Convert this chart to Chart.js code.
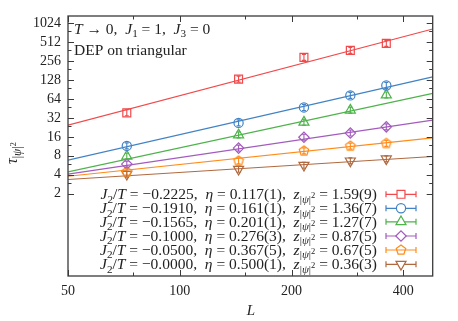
<!DOCTYPE html>
<html>
<head>
<meta charset="utf-8">
<script src="https://cdn.jsdelivr.net/npm/chart.js@4.4.0/dist/chart.umd.min.js"></script>
<style>
  html, body { margin: 0; padding: 0; background: #fff; }
  #wrap { width: 458px; height: 321px; }
</style>
</head>
<body>
<div id="wrap"><canvas id="c" width="458" height="321"></canvas></div>
<script>
// === dados === //
const sizes = [72, 144, 216, 288, 360];          // L
const j2Labels = ['\u22120.2225', '\u22120.1910', '\u22120.1565', '\u22120.1000', '\u22120.0500', '\u22120.0000'];
const etaLabels = ['0.117(1)', '0.161(1)', '0.201(1)', '0.276(3)', '0.367(5)', '0.500(1)'];
const zLabels = ['1.59(9)', '1.36(7)', '1.27(7)', '0.87(5)', '0.67(5)', '0.36(3)'];

const tauA = [38.6, 132.8, 294, 380, 491];   // J2/T = -0.2225
const tauB = [11.5, 26.7, 47.0, 73, 105];    // -0.1910
const tauC = [7.9, 17.2, 27.4, 42.6, 74];    // -0.1565
const tauD = [5.9, 10.6, 15.8, 18.4, 23.1];  // -0.1000
const tauE = [4.43, 6.63, 9.58, 11.4, 12.6]; // -0.0500
const tauF = [4.08, 4.89, 5.66, 6.63, 7.15]; // -0.0000

// retas de ajuste (extremos do eixo)
const fitL = [50, 480];
const fitA = [24.6, 831];
const fitB = [6.8, 144];
const fitC = [4.43, 78.6];
const fitD = [4.08, 29.5];
const fitE = [3.78, 15.4];
const fitF = [3.36, 7.8];

const xTicks = [50, 100, 200, 400];
const xMinor = [75, 150, 300];
const yTicks = [2, 4, 8, 16, 32, 64, 128, 256, 512, 1024];
const yMinor = [3, 6, 12, 24, 48, 96, 192, 384, 768];

// === estilos === //
const colors = ['#f04a4c', '#4183c4', '#4db34a', '#a35cbd', '#ff8c1a', '#b0693f'];
const FONT = '"Liberation Serif", "DejaVu Serif", serif';
const frameColor = '#3a3a3a';

function makePentagon(color, r) {
  const s = Math.ceil(r * 2 + 4);
  const cv = document.createElement('canvas');
  cv.width = s; cv.height = s;
  const g = cv.getContext('2d');
  g.strokeStyle = color; g.lineWidth = 1.2;
  g.beginPath();
  for (let i = 0; i < 5; i++) {
    const a = -Math.PI / 2 + i * 2 * Math.PI / 5;
    const px = s / 2 + r * Math.cos(a), py = s / 2 + r * Math.sin(a);
    i ? g.lineTo(px, py) : g.moveTo(px, py);
  }
  g.closePath(); g.stroke();
  return cv;
}

const markers = [
  { style: 'rect', radius: 5.6, rotation: 0 },
  { style: 'circle', radius: 4.6, rotation: 0 },
  { style: 'triangle', radius: 5.8, rotation: 0 },
  { style: 'rectRot', radius: 5.2, rotation: 0 },
  { style: makePentagon(colors[4], 5), radius: 5, rotation: 0 },
  { style: 'triangle', radius: 5.8, rotation: 180 }
];

const series = [tauA, tauB, tauC, tauD, tauE, tauF];
const fits = [fitA, fitB, fitC, fitD, fitE, fitF];

const datasets = [];
fits.forEach((f, i) => {
  datasets.push({
    type: 'line',
    data: fitL.map((x, k) => ({ x, y: f[k] })),
    borderColor: colors[i],
    borderWidth: 1.2,
    pointRadius: 0,
    fill: false,
    order: 2
  });
});
series.forEach((s, i) => {
  datasets.push({
    type: 'scatter',
    data: sizes.map((x, k) => ({ x, y: s[k] })),
    borderColor: colors[i],
    backgroundColor: 'rgba(0,0,0,0)',
    borderWidth: 1.2,
    pointStyle: markers[i].style,
    pointRadius: markers[i].radius,
    rotation: markers[i].rotation,
    isPoints: true,
    order: 1
  });
});

// === texto com índices === //
function segFont(seg, size) {
  const lvl = seg.lvl || 0;
  const fs = lvl === 0 ? size : lvl === 1 ? size * 0.72 : size * 0.55;
  return { font: (seg.it ? 'italic ' : '') + fs + 'px ' + FONT, dy: lvl === 0 ? 0 : lvl === 1 ? size * 0.22 : -size * 0.06 };
}
function richWidth(ctx, segs, size) {
  let w = 0;
  segs.forEach(sg => { ctx.font = segFont(sg, size).font; w += ctx.measureText(sg.t).width; });
  return w;
}
function drawRich(ctx, segs, x, y, size, align) {
  let cx = align === 'right' ? x - richWidth(ctx, segs, size) : align === 'center' ? x - richWidth(ctx, segs, size) / 2 : x;
  ctx.textAlign = 'left';
  ctx.textBaseline = 'alphabetic';
  segs.forEach(sg => {
    const f = segFont(sg, size);
    ctx.font = f.font;
    ctx.fillText(sg.t, cx, y + f.dy);
    cx += ctx.measureText(sg.t).width;
  });
}
function legendSegs(i) {
  return [
    { t: 'J', it: true }, { t: '2', lvl: 1 }, { t: '/' }, { t: 'T', it: true },
    { t: ' = ' + j2Labels[i] + ',  ' }, { t: '\u03b7', it: true },
    { t: ' = ' + etaLabels[i] + ',  ' }, { t: 'z', it: true },
    { t: '|' , lvl: 1 }, { t: '\u03c8', it: true, lvl: 1 }, { t: '|', lvl: 1 }, { t: '2', lvl: 2 },
    { t: ' = ' + zLabels[i] }
  ];
}

const decor = {
  id: 'decor',
  afterDatasetsDraw(chart) {
    const ctx = chart.ctx;
    const xs = chart.scales.x, ys = chart.scales.y;
    // pequenas barras de erro dentro dos símbolos
    ctx.save();
    chart.data.datasets.forEach(ds => {
      if (!ds.isPoints) return;
      ctx.strokeStyle = ds.borderColor;
      ctx.lineWidth = 1.1;
      ds.data.forEach(p => {
        const px = xs.getPixelForValue(p.x), py = ys.getPixelForValue(p.y);
        ctx.beginPath();
        ctx.moveTo(px, py - 3); ctx.lineTo(px, py + 3);
        ctx.moveTo(px - 2, py - 3); ctx.lineTo(px + 2, py - 3);
        ctx.moveTo(px - 2, py + 3); ctx.lineTo(px + 2, py + 3);
        ctx.stroke();
      });
    });
    ctx.restore();
  },
  afterDraw(chart) {
    const ctx = chart.ctx;
    const a = chart.chartArea;
    const xs = chart.scales.x, ys = chart.scales.y;
    ctx.save();
    // moldura
    ctx.strokeStyle = frameColor;
    ctx.lineWidth = 1.3;
    ctx.strokeRect(a.left, a.top, a.right - a.left, a.bottom - a.top);
    // marcas dos eixos (para dentro, nos quatro lados)
    ctx.lineWidth = 1;
    ctx.beginPath();
    const xt = (v, len) => {
      const px = Math.round(xs.getPixelForValue(v)) + 0.5;
      ctx.moveTo(px, a.bottom); ctx.lineTo(px, a.bottom - len);
      ctx.moveTo(px, a.top); ctx.lineTo(px, a.top + len);
    };
    const yt = (v, len) => {
      const py = Math.round(ys.getPixelForValue(v)) + 0.5;
      ctx.moveTo(a.left, py); ctx.lineTo(a.left + len, py);
      ctx.moveTo(a.right, py); ctx.lineTo(a.right - len, py);
    };
    xTicks.forEach(v => xt(v, 6));
    xMinor.forEach(v => xt(v, 3.5));
    yTicks.forEach(v => yt(v, 6));
    yMinor.forEach(v => yt(v, 3.5));
    ctx.stroke();

    ctx.fillStyle = '#222';
    // títulos dos eixos
    ctx.font = 'italic 15px ' + FONT;
    ctx.textAlign = 'center';
    ctx.textBaseline = 'middle';
    ctx.fillText('L', 251, 311);
    ctx.save();
    ctx.translate(17, 153);
    ctx.rotate(-Math.PI / 2);
    drawRich(ctx, [{ t: '\u03c4', it: true }, { t: '|', lvl: 1 }, { t: '\u03c8', it: true, lvl: 1 }, { t: '|', lvl: 1 }, { t: '2', lvl: 2 }], 0, 0, 16, 'center');
    ctx.restore();

    // anotações
    drawRich(ctx, [{ t: 'T', it: true }, { t: ' \u2192 0,  ' }, { t: 'J', it: true }, { t: '1', lvl: 1 }, { t: ' = 1,  ' },
      { t: 'J', it: true }, { t: '3', lvl: 1 }, { t: ' = 0' }], 74, 34, 15.5, 'left');
    drawRich(ctx, [{ t: 'DEP on triangular' }], 74, 54.5, 15.5, 'left');

    // legenda
    const rowY = [194.3, 208.3, 221.8, 236, 250, 264.3];
    rowY.forEach((y, i) => {
      ctx.fillStyle = '#222';
      drawRich(ctx, legendSegs(i), 377, y + 5, 15.5, 'right');
      ctx.strokeStyle = colors[i];
      ctx.lineWidth = 1.2;
      ctx.beginPath();
      ctx.moveTo(386, y); ctx.lineTo(416, y);
      ctx.moveTo(386, y - 3); ctx.lineTo(386, y + 3);
      ctx.moveTo(416, y - 3); ctx.lineTo(416, y + 3);
      ctx.stroke();
      ctx.fillStyle = '#ffffff';
      const m = markers[i];
      Chart.helpers.drawPoint(ctx, {
        pointStyle: m.style, radius: m.radius, rotation: m.rotation, borderWidth: 1.2
      }, 401, y);
    });
    ctx.restore();
  }
};

Chart.defaults.font.family = FONT;
Chart.defaults.color = '#222';

new Chart(document.getElementById('c'), {
  data: { datasets },
  options: {
    responsive: false,
    animation: false,
    layout: { padding: { top: 16, right: 25.3, left: 0, bottom: 0 } },
    plugins: { legend: { display: false }, tooltip: { enabled: false } },
    scales: {
      x: {
        type: 'logarithmic',
        min: 50, max: 480,
        grid: { display: false, drawTicks: false },
        border: { display: false },
        ticks: { font: { size: 14 }, padding: 7, maxRotation: 0, autoSkip: false, callback: v => String(v) },
        afterBuildTicks: s => { s.ticks = xTicks.map(v => ({ value: v })); },
        afterFit: s => { s.height = 45; }
      },
      y: {
        type: 'logarithmic',
        min: 0.098, max: 1338,
        grid: { display: false, drawTicks: false },
        border: { display: false },
        ticks: { font: { size: 14 }, padding: 7, autoSkip: false, callback: v => String(v) },
        afterBuildTicks: s => { s.ticks = yTicks.map(v => ({ value: v })); },
        afterFit: s => { s.width = 68; }
      }
    }
  },
  plugins: [decor]
});
</script>
</body>
</html>
